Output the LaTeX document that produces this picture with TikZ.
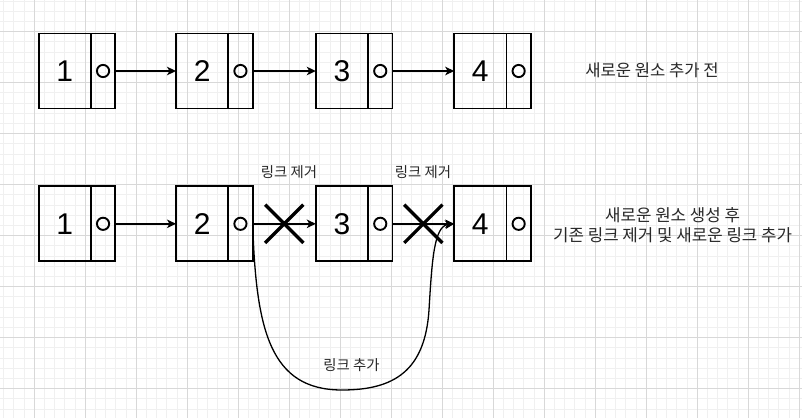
\documentclass[tikz,border=0pt]{standalone}
\usepackage{fontspec}
\setmainfont{Liberation Sans}
\newfontfamily\kor{Noto Sans CJK KR}
\usetikzlibrary{arrows.meta,positioning,shapes.misc,calc}
\definecolor{GridMinor}{RGB}{240,240,240}
\definecolor{GridMajor}{RGB}{216,216,216}
\definecolor{NoteGray}{RGB}{40,40,40}
\tikzset{
  keybox/.style={draw,line width=1.8pt,outer sep=0pt,inner sep=0pt,
    minimum width=52.2pt,minimum height=75pt,font=\fontsize{30}{30}\selectfont},
  nextbox/.style={draw,line width=1.8pt,outer sep=0pt,inner sep=0pt,
    minimum width=24.5pt,minimum height=75pt},
  ring/.style={line width=1.9pt},
  link/.style={-{Stealth[length=9pt,width=8.5pt,inset=2.5pt]},line width=1.4pt},
  cut/.style={cross out,draw,line width=3.3pt,minimum size=35pt,inner sep=0pt},
  note/.style={font=\kor\fontsize{14.4}{14.4}\selectfont,text=NoteGray,inner sep=0pt}
}
\begin{document}
\begin{tikzpicture}[x=1pt,y=-1pt]
  \useasboundingbox[fill=white] (0,0) rectangle (802,418);
  % grid
  \foreach \i in {0,...,78} \draw[GridMinor,line width=1pt] (3.7+10.2*\i,0) -- (3.7+10.2*\i,418);
  \foreach \j in {0,...,40} \draw[GridMinor,line width=1pt] (0,1.1+10.2*\j) -- (802,1.1+10.2*\j);
  \foreach \i in {0,...,15} \draw[GridMajor,line width=1pt] (34.3+51*\i,0) -- (34.3+51*\i,418);
  \foreach \j in {0,...,7} \draw[GridMajor,line width=1pt] (0,31.7+51*\j) -- (802,31.7+51*\j);
  % lists
  \foreach \i/\x in {1/38.6,2/176,3/315.8,4/454.2}{
    \node[keybox] (key\i) at (\x+26.1,71) {\i};
    \node[nextbox,right=0pt of key\i] (nxt\i) {};
    \draw[ring] (nxt\i.center) circle (6.1pt);
    \node[keybox] (keyb\i) at (\x+26.1,223.8) {\i};
    \node[nextbox,right=0pt of keyb\i] (nxtb\i) {};
    \draw[ring] (nxtb\i.center) circle (6.1pt);
  }
  \foreach \i/\j in {1/2,2/3,3/4}{
    \draw[link] (nxt\i.east) -- (key\j.west);
    \draw[link] (nxtb\i.east) -- (keyb\j.west);
  }
  % removed links
  \node[cut] (cut1) at ($(nxtb2.east)!0.5!(keyb3.west)$) {};
  \node[cut] (cut2) at ($(nxtb3.east)!0.5!(keyb4.west)$) {};
  \node[note] (rm1) at (289,172) {링크 제거};
  \node[note] (rm2) at (423,172) {링크 제거};
  % new link
  \coordinate (low) at (342,390);
  \coordinate (turn) at (429,310);
  \draw[link,line width=1.3pt] (nxtb2.east) .. controls (256,330) and (270,390) .. (low)
    .. controls (395,390) and (425,370) .. (turn)
    .. controls (432,260) and (434,226) .. (keyb4.west);
  \node[note] (add) at (351.5,365) {링크 추가};
  % captions
  \node[note,font=\kor\fontsize{16.6}{16.6}\selectfont] (before) at (652,70.5) {새로운 원소 추가 전};
  \node[note,font=\kor\fontsize{16.8}{20}\selectfont,align=center] (after) at (672.6,225)
    {새로운 원소 생성 후\\기존 링크 제거 및 새로운 링크 추가};
\end{tikzpicture}
\end{document}
